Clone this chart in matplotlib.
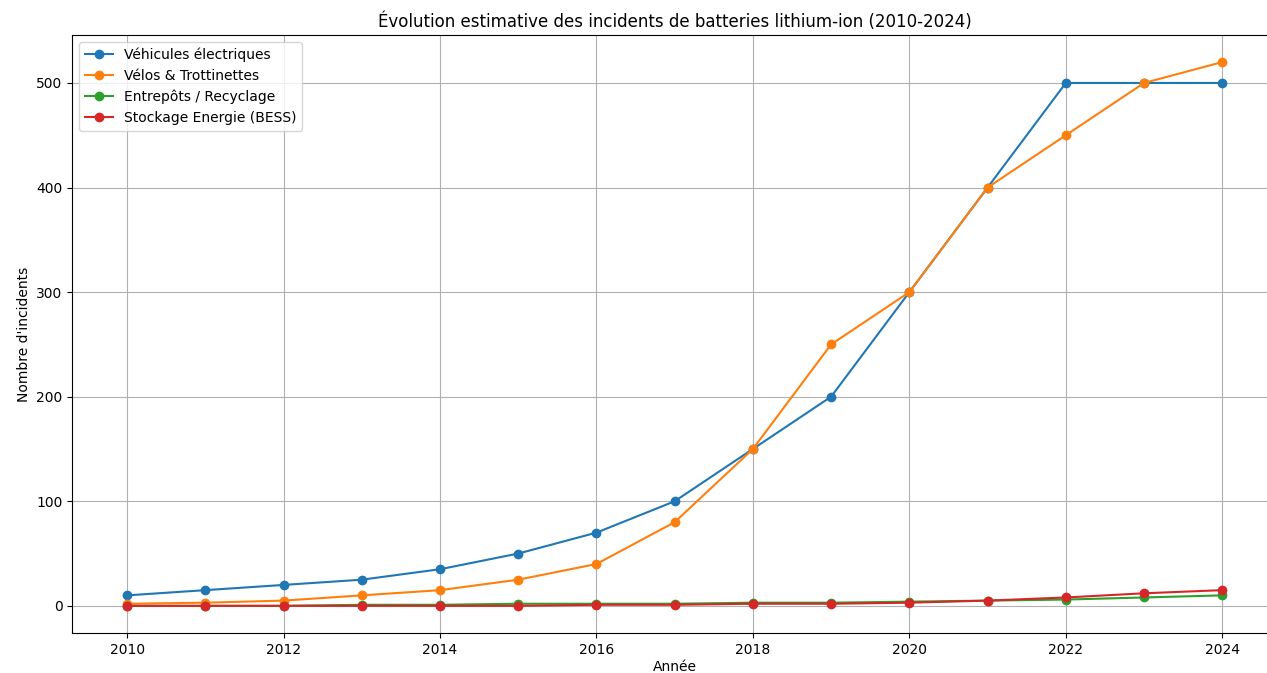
import matplotlib
matplotlib.use("Agg")
import matplotlib.pyplot as plt

annees = list(range(2010, 2025))
vehicules = [10, 15, 20, 25, 35, 50, 70, 100, 150, 200, 300, 400, 500, 500, 500]
velos = [2, 3, 5, 10, 15, 25, 40, 80, 150, 250, 300, 400, 450, 500, 520]
entrepots = [0, 0, 0, 1, 1, 2, 2, 2, 3, 3, 4, 5, 6, 8, 10]
stockage = [0, 0, 0, 0, 0, 0, 1, 1, 2, 2, 3, 5, 8, 12, 15]

series = [vehicules, velos, entrepots, stockage]
labels = ["Véhicules électriques", "Vélos & Trottinettes",
          "Entrepôts / Recyclage", "Stockage Energie (BESS)"]

fig = plt.figure(figsize=(12.67, 6.73), dpi=100)
# the reference is a cropped screenshot: the axes run past the right edge
ax = fig.add_axes([0.0571, 0.0594, 0.9508, 0.8888])
ax.grid(True)

for data, label in zip(series, labels):
    ax.plot(annees, data, marker='o', label=label)

ax.set_title("Évolution estimative des incidents de batteries lithium-ion (2010-2024)", fontsize=12)
ax.set_xlabel("Année", labelpad=2.5)
ax.set_ylabel("Nombre d'incidents")
ax.legend(loc='upper left')

fig.savefig("out.png", dpi=100)
